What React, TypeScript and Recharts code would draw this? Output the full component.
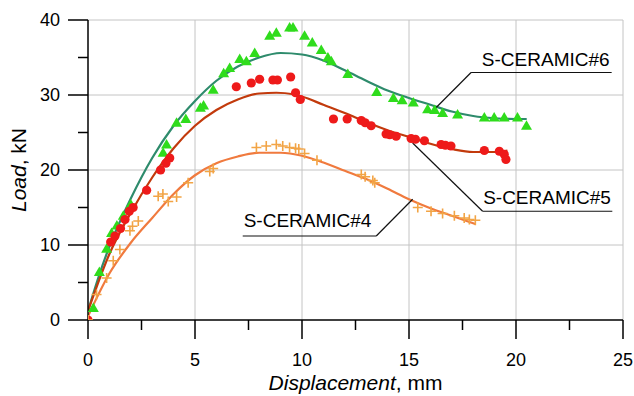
import React from "react";
import {
  ComposedChart,
  Line,
  Scatter,
  XAxis,
  YAxis,
  ReferenceLine,
  ReferenceDot,
  Label,
} from "recharts";

// measured points, S-CERAMIC#6 (triangles)
const pts6 = [
  { x: 0, y: 0 }, { x: 0.25, y: 1.6 }, { x: 0.53, y: 6.4 }, { x: 0.87, y: 9.5 },
  { x: 1.1, y: 11.6 }, { x: 1.35, y: 12.6 }, { x: 1.65, y: 13.9 }, { x: 2.0, y: 15.4 },
  { x: 3.51, y: 22.3 }, { x: 3.67, y: 23.4 }, { x: 4.14, y: 26.3 }, { x: 4.57, y: 26.8 },
  { x: 5.25, y: 28.3 }, { x: 5.4, y: 28.6 }, { x: 5.85, y: 30.7 }, { x: 6.34, y: 32.9 },
  { x: 6.62, y: 33.6 }, { x: 7.09, y: 34.8 }, { x: 7.4, y: 34.5 }, { x: 7.79, y: 35.6 },
  { x: 8.49, y: 37.9 }, { x: 8.8, y: 38.3 }, { x: 9.42, y: 39.0 }, { x: 9.58, y: 39.0 },
  { x: 10.12, y: 37.9 }, { x: 10.48, y: 37.0 }, { x: 10.9, y: 36.0 }, { x: 11.21, y: 35.0 },
  { x: 11.37, y: 34.5 }, { x: 12.14, y: 32.8 }, { x: 13.49, y: 30.4 }, { x: 14.27, y: 29.6 },
  { x: 14.68, y: 29.3 }, { x: 15.2, y: 29.0 }, { x: 15.87, y: 28.1 }, { x: 16.2, y: 28.0 },
  { x: 16.57, y: 27.6 }, { x: 17.27, y: 27.4 }, { x: 18.52, y: 27.0 }, { x: 18.98, y: 27.0 },
  { x: 19.45, y: 27.0 }, { x: 20.07, y: 27.0 }, { x: 20.49, y: 25.9 },
];

// S-CERAMIC#5 (circles)
const pts5 = [
  { x: 0, y: 0 }, { x: 1.06, y: 10.4 }, { x: 1.26, y: 11.2 }, { x: 1.52, y: 12.2 },
  { x: 1.73, y: 13.4 }, { x: 1.93, y: 14.5 }, { x: 2.11, y: 15.0 }, { x: 2.74, y: 17.3 },
  { x: 3.39, y: 20.0 }, { x: 3.64, y: 20.9 }, { x: 3.82, y: 21.6 }, { x: 6.93, y: 31.1 },
  { x: 7.63, y: 31.6 }, { x: 8.02, y: 32.1 }, { x: 8.64, y: 32.0 }, { x: 8.85, y: 32.0 },
  { x: 9.47, y: 32.4 }, { x: 9.7, y: 30.3 }, { x: 9.92, y: 29.4 }, { x: 11.47, y: 26.8 },
  { x: 12.11, y: 26.8 }, { x: 12.77, y: 26.6 }, { x: 12.95, y: 26.3 }, { x: 13.23, y: 25.9 },
  { x: 13.93, y: 24.8 }, { x: 14.1, y: 24.7 }, { x: 14.4, y: 24.5 }, { x: 15.1, y: 24.2 },
  { x: 15.3, y: 24.1 }, { x: 15.72, y: 23.9 }, { x: 16.5, y: 23.4 }, { x: 16.7, y: 23.3 },
  { x: 16.96, y: 23.2 }, { x: 18.52, y: 22.6 }, { x: 19.22, y: 22.5 }, { x: 19.45, y: 22.1 },
  { x: 19.53, y: 21.4 },
];

// S-CERAMIC#4 (crosses)
const pts4 = [
  { x: 0, y: 0 }, { x: 0.4, y: 3.4 }, { x: 0.87, y: 5.6 }, { x: 1.18, y: 7.9 },
  { x: 1.49, y: 9.4 }, { x: 1.96, y: 11.9 }, { x: 2.08, y: 12.5 }, { x: 2.35, y: 13.2 },
  { x: 3.28, y: 16.5 }, { x: 3.5, y: 16.8 }, { x: 3.75, y: 15.8 }, { x: 4.14, y: 16.4 },
  { x: 4.68, y: 18.3 }, { x: 5.69, y: 19.8 }, { x: 5.85, y: 20.2 }, { x: 7.87, y: 23.0 },
  { x: 8.33, y: 23.2 }, { x: 8.8, y: 23.4 }, { x: 9.1, y: 23.2 }, { x: 9.42, y: 23.0 },
  { x: 9.7, y: 22.9 }, { x: 9.85, y: 22.8 }, { x: 10.12, y: 22.2 }, { x: 10.7, y: 21.3 },
  { x: 12.77, y: 19.4 }, { x: 12.95, y: 19.1 }, { x: 13.31, y: 18.6 }, { x: 13.4, y: 18.3 },
  { x: 15.41, y: 15.0 }, { x: 16.03, y: 14.5 }, { x: 16.57, y: 14.2 }, { x: 17.12, y: 13.9 },
  { x: 17.58, y: 13.6 }, { x: 17.82, y: 13.4 }, { x: 18.1, y: 13.3 },
];

// fitted curves
const fit6 = [
  { x: 0, y: 1.2 }, { x: 0.5, y: 5.8 }, { x: 1, y: 9.8 }, { x: 2, y: 16.2 }, { x: 3, y: 21.6 },
  { x: 4, y: 25.9 }, { x: 5, y: 29.2 }, { x: 6, y: 31.9 }, { x: 7, y: 33.8 }, { x: 8, y: 35.0 },
  { x: 9, y: 35.6 }, { x: 10, y: 35.4 }, { x: 11, y: 34.6 }, { x: 12, y: 33.3 }, { x: 13, y: 31.9 },
  { x: 14, y: 30.6 }, { x: 15, y: 29.6 }, { x: 16, y: 28.7 }, { x: 17, y: 27.8 }, { x: 18, y: 27.2 },
  { x: 19, y: 26.9 }, { x: 20, y: 26.8 }, { x: 20.5, y: 26.8 },
];

const fit5 = [
  { x: 0, y: 1.2 }, { x: 1, y: 8.8 }, { x: 2, y: 14.3 }, { x: 3, y: 19.0 }, { x: 4, y: 22.9 },
  { x: 5, y: 25.9 }, { x: 6, y: 28.0 }, { x: 7, y: 29.4 }, { x: 8, y: 30.2 }, { x: 8.8, y: 30.3 },
  { x: 9.6, y: 30.1 }, { x: 10, y: 29.8 }, { x: 11, y: 28.7 }, { x: 12, y: 27.6 }, { x: 13, y: 26.4 },
  { x: 14, y: 25.3 }, { x: 15, y: 24.4 }, { x: 16, y: 23.5 }, { x: 17, y: 22.8 }, { x: 18, y: 22.4 },
  { x: 19, y: 22.4 }, { x: 19.6, y: 22.6 },
];

const fit4 = [
  { x: 0, y: 0.5 }, { x: 1, y: 6.2 }, { x: 2, y: 10.3 }, { x: 3, y: 13.6 }, { x: 4, y: 16.8 },
  { x: 5, y: 19.3 }, { x: 6, y: 20.9 }, { x: 7, y: 21.8 }, { x: 8, y: 22.3 }, { x: 9, y: 22.3 },
  { x: 10, y: 21.9 }, { x: 11, y: 21.0 }, { x: 12, y: 19.9 }, { x: 13, y: 18.8 }, { x: 14, y: 17.5 },
  { x: 15, y: 16.1 }, { x: 16, y: 14.9 }, { x: 17, y: 13.9 }, { x: 18.1, y: 12.8 },
];

const xTicks = [0, 2.5, 5, 7.5, 10, 12.5, 15, 17.5, 20, 22.5, 25];
const yTicks = [0, 5, 10, 15, 20, 25, 30, 35, 40];
const xGrid = [5, 10, 15, 20, 25];
const yGrid = [10, 20, 30, 40];

// label leaders: text centre x, underline y and span, point the leader goes to
const labels = [
  { name: "S-CERAMIC#6", cx: 21.39, uy: 33.0, x1: 17.9, x2: 24.47, px: 16.26, py: 28.3, off: 7, left: true },
  { name: "S-CERAMIC#5", cx: 21.45, uy: 14.5, x1: 18.44, x2: 24.5, px: 15.17, py: 23.6, off: 7, left: true },
  { name: "S-CERAMIC#4", cx: 10.26, uy: 11.2, x1: 7.23, x2: 13.47, px: 15.17, py: 16.1, off: 9, left: false },
];

const FONT = '"Liberation Sans", Arial, sans-serif';

const XTick = (props: any) => {
  const { x, y, payload } = props;
  const major = payload.value % 5 === 0;
  return (
    <g>
      <line x1={x} x2={x} y1={y} y2={y + (major ? 19 : 10)} stroke="#000" strokeWidth={1.5} />
      {major && (
        <text x={x} y={y + 46} textAnchor="middle" fontSize={18} fill="#000">
          {payload.value}
        </text>
      )}
    </g>
  );
};

const YTick = (props: any) => {
  const { x, y, payload } = props;
  const major = payload.value % 10 === 0;
  return (
    <g>
      <line x1={x} x2={x - (major ? 20 : 10)} y1={y} y2={y} stroke="#000" strokeWidth={1.5} />
      {major && (
        <text x={x - 28} y={y + 6} textAnchor="end" fontSize={18} fill="#000">
          {payload.value}
        </text>
      )}
    </g>
  );
};

const Triangle = (props: any) => {
  const { cx, cy } = props;
  return (
    <polygon
      points={`${cx},${cy - 5.5} ${cx + 5.5},${cy + 4} ${cx - 5.5},${cy + 4}`}
      fill="#2fdc1c"
    />
  );
};

const Circle = (props: any) => {
  const { cx, cy } = props;
  return <circle cx={cx} cy={cy} r={4.6} fill="#ee1a1a" />;
};

const Plus = (props: any) => {
  const { cx, cy } = props;
  return (
    <path
      d={`M${cx - 5},${cy}H${cx + 5}M${cx},${cy - 5}V${cy + 5}`}
      stroke="#f2a445"
      strokeWidth={1.6}
      fill="none"
    />
  );
};

export default function App() {
  return (
    <div style={{ position: "absolute", left: 0, top: 0, width: 634, height: 396, background: "#fff" }}>
      <ComposedChart
        width={634}
        height={396}
        margin={{ top: 20, right: 11, bottom: 0, left: 28 }}
        style={{ fontFamily: FONT }}
      >
        {xGrid.map((v) => (
          <ReferenceLine key={`gx${v}`} x={v} stroke="#c4c4c4" strokeWidth={1} />
        ))}
        {yGrid.map((v) => (
          <ReferenceLine key={`gy${v}`} y={v} stroke="#c4c4c4" strokeWidth={1} />
        ))}
        <XAxis
          dataKey="x"
          type="number"
          domain={[0, 25]}
          ticks={xTicks}
          interval={0}
          height={76}
          tickSize={0}
          tickMargin={0}
          tickLine={false}
          tick={<XTick />}
          axisLine={{ stroke: "#000", strokeWidth: 1.5 }}
          allowDataOverflow
        >
          <Label
            content={(p: any) => {
              const vb = p.viewBox;
              return (
                <text x={vb.x + vb.width / 2} y={vb.y + 70} textAnchor="middle" fontSize={21} fill="#000">
                  <tspan fontStyle="italic">Displacement</tspan>, mm
                </text>
              );
            }}
          />
        </XAxis>
        <YAxis
          dataKey="y"
          type="number"
          domain={[0, 40]}
          ticks={yTicks}
          interval={0}
          width={60}
          tickSize={0}
          tickMargin={0}
          tickLine={false}
          tick={<YTick />}
          axisLine={{ stroke: "#000", strokeWidth: 1.5 }}
          allowDataOverflow
        >
          <Label
            content={(p: any) => {
              const vb = p.viewBox;
              const cx = 26;
              const cy = vb.y + vb.height / 2;
              return (
                <text
                  x={cx}
                  y={cy}
                  textAnchor="middle"
                  fontSize={21}
                  fill="#000"
                  transform={`rotate(-90 ${cx} ${cy})`}
                >
                  <tspan fontStyle="italic">Load</tspan>, kN
                </text>
              );
            }}
          />
        </YAxis>

        <Line data={fit6} dataKey="y" type="monotone" stroke="#2e8b6c" strokeWidth={2.2} dot={false} isAnimationActive={false} />
        <Line data={fit5} dataKey="y" type="monotone" stroke="#c23a0c" strokeWidth={2.2} dot={false} isAnimationActive={false} />
        <Line data={fit4} dataKey="y" type="monotone" stroke="#f07a3e" strokeWidth={2.2} dot={false} isAnimationActive={false} />

        <Scatter data={pts6} dataKey="y" shape={<Triangle />} isAnimationActive={false} />
        <Scatter data={pts5} dataKey="y" shape={<Circle />} isAnimationActive={false} />
        <Scatter data={pts4} dataKey="y" shape={<Plus />} isAnimationActive={false} />

        {labels.map((l) => (
          <ReferenceLine
            key={`u${l.name}`}
            segment={[{ x: l.x1, y: l.uy }, { x: l.x2, y: l.uy }]}
            stroke="#111"
            strokeWidth={1.2}
          />
        ))}
        {labels.map((l) => (
          <ReferenceLine
            key={`l${l.name}`}
            segment={[{ x: l.left ? l.x1 : l.x2, y: l.uy }, { x: l.px, y: l.py }]}
            stroke="#111"
            strokeWidth={1.2}
          />
        ))}
        {labels.map((l) => (
          <ReferenceDot
            key={`t${l.name}`}
            x={l.cx}
            y={l.uy}
            r={0}
            fill="none"
            stroke="none"
            label={{ value: l.name, position: "top", offset: l.off, fontSize: 19, fill: "#000" }}
          />
        ))}
      </ComposedChart>
    </div>
  );
}
